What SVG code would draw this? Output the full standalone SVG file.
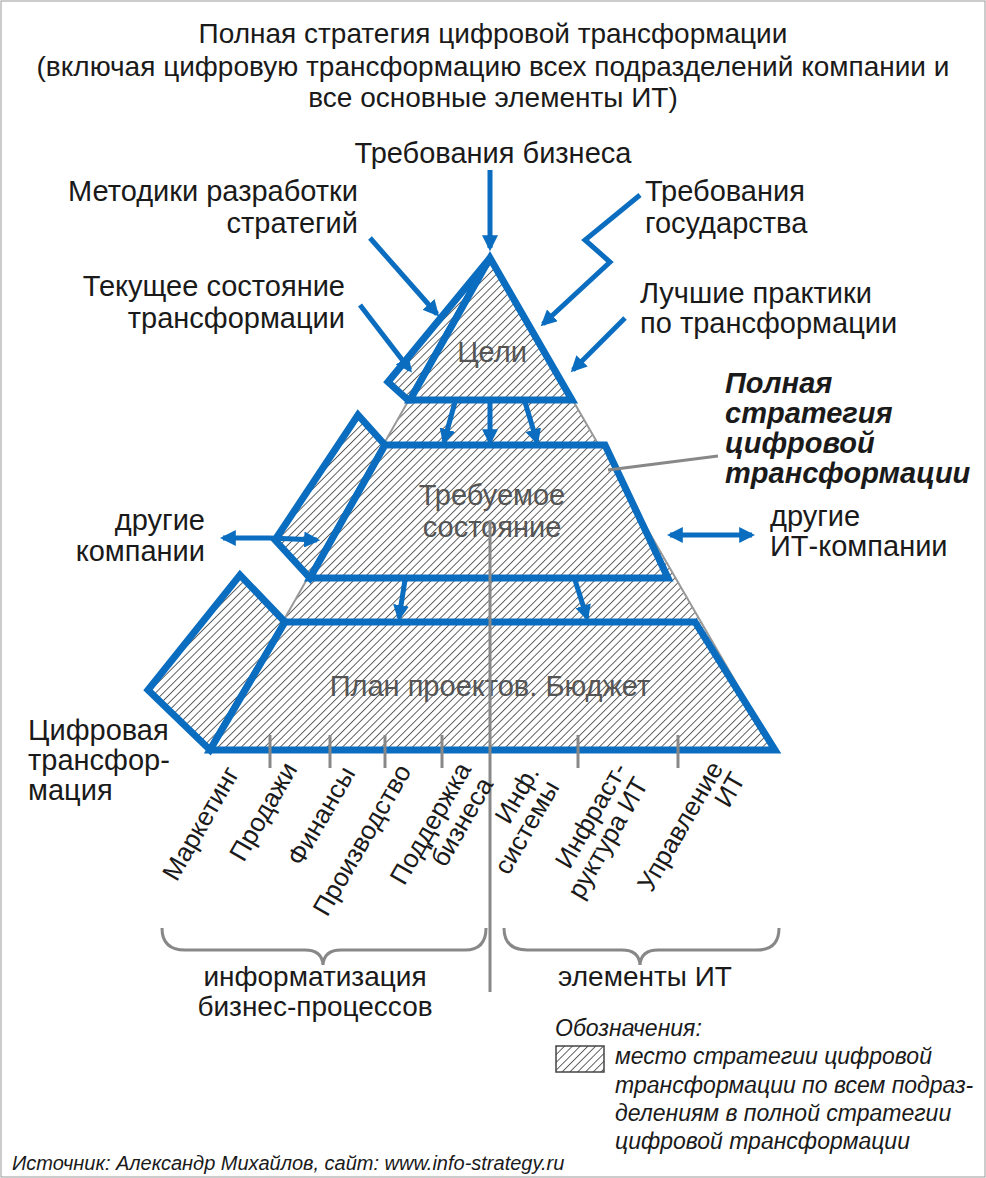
<svg xmlns="http://www.w3.org/2000/svg" width="986" height="1178" viewBox="0 0 986 1178">
<defs>
<pattern id="h" patternUnits="userSpaceOnUse" width="5.5" height="5.5" patternTransform="rotate(45)">
<rect width="5.5" height="5.5" fill="#fff"/><line x1="0" y1="0" x2="0" y2="5.5" stroke="#222" stroke-width="1.4"/>
</pattern>
<marker id="a" viewBox="0 0 10 10" refX="8" refY="5" markerWidth="3.2" markerHeight="3.2" orient="auto-start-reverse"><path d="M0,0L10,5L0,10z" fill="#0b6dbf"/></marker>
<style>
text{font-family:"Liberation Sans",Arial,sans-serif;fill:#1a1a1a}
.b{fill:url(#h);stroke:#0b6dbf;stroke-width:7;stroke-linejoin:miter}
.ar{fill:none;stroke:#0b6dbf;stroke-width:5;marker-end:url(#a)}
.g{stroke:#888;stroke-width:3;fill:none}
.in{fill:#555;font-size:29px;text-anchor:middle}
.lb{font-size:29px}
.it{font-style:italic}
</style>
</defs>
<rect x="1" y="1" width="984" height="1176" fill="#fff" stroke="#999"/>
<g id="title" font-size="28" text-anchor="middle">
<text x="493" y="43">Полная стратегия цифровой трансформации</text>
<text x="493" y="76">(включая цифровую трансформацию всех подразделений компании и</text>
<text x="493" y="107">все основные элементы ИТ)</text>
</g>
<g id="pyramid">
<polygon points="490,257 210,750 775,750" fill="url(#h)" stroke="#999" stroke-width="2"/>
</g>
<g id="goals">
<polygon class="b" points="490,258 388,382 408,400 410,400"/>
<polygon class="b" points="490,258 410,400 572,400"/>
<text class="in" x="492" y="362">Цели</text>
</g>
<g id="state">
<polygon class="b" points="385,445 358,415 275,540 310,578"/>
<polygon class="b" points="385,445 605,445 668,578 310,578"/>
<text class="in" x="492" y="505">Требуемое</text>
<text class="in" x="492" y="537">состояние</text>
</g>
<g id="plan">
<polygon class="b" points="285,622 240,575 148,690 210,750"/>
<polygon class="b" points="285,622 695,622 775,750 210,750"/>
<text class="in" x="490" y="696">План проектов. Бюджет</text>
</g>
<g id="connectors">
<line class="g" x1="490" y1="520" x2="490" y2="992"/>
<line class="g" x1="608" y1="470" x2="718" y2="456"/>
<g class="g" stroke-width="3">
<line x1="270" y1="735" x2="270" y2="768"/><line x1="330" y1="735" x2="330" y2="768"/>
<line x1="385" y1="735" x2="385" y2="768"/><line x1="442" y1="735" x2="442" y2="768"/>
<line x1="578" y1="735" x2="578" y2="768"/><line x1="678" y1="735" x2="678" y2="768"/>
</g>
<line class="ar" x1="490" y1="170" x2="490" y2="248"/>
<line class="ar" x1="370" y1="238" x2="437" y2="314"/>
<line class="ar" x1="360" y1="305" x2="410" y2="370"/>
<polyline class="ar" points="640,195 585,240 610,262 543,324"/>
<line class="ar" x1="625" y1="318" x2="573" y2="370"/>
<line class="ar" x1="455" y1="402" x2="444" y2="442"/>
<line class="ar" x1="490" y1="402" x2="490" y2="442"/>
<line class="ar" x1="525" y1="402" x2="537" y2="442"/>
<line class="ar" x1="405" y1="580" x2="399" y2="618"/>
<line class="ar" x1="575" y1="580" x2="587" y2="618"/>
<line class="ar" x1="270" y1="538" x2="223" y2="538"/>
<line class="ar" x1="270" y1="538" x2="317" y2="540"/>
<line class="ar" x1="710" y1="535" x2="670" y2="535"/>
<line class="ar" x1="710" y1="535" x2="752" y2="535"/>
<path class="g" d="M162,928 Q162,950 185,950 L305,950 Q322,950 323,965 Q324,950 341,950 L465,950 Q486,950 486,928"/>
<path class="g" d="M504,928 Q504,950 527,950 L622,950 Q639,950 640,965 Q641,950 658,950 L757,950 Q779,950 779,928"/>
</g>
<g id="labels" class="lb">
<text x="493" y="163" text-anchor="middle">Требования бизнеса</text>
<text x="358" y="201" text-anchor="end">Методики разработки</text>
<text x="358" y="233" text-anchor="end">стратегий</text>
<text x="645" y="201">Требования</text>
<text x="645" y="233">государства</text>
<text x="345" y="296" text-anchor="end">Текущее состояние</text>
<text x="345" y="328" text-anchor="end">трансформации</text>
<text x="640" y="303">Лучшие практики</text>
<text x="640" y="333">по трансформации</text>
<g font-weight="bold" font-style="italic" font-size="29">
<text x="725" y="393">Полная</text><text x="725" y="423">стратегия</text>
<text x="725" y="453">цифровой</text><text x="725" y="483">трансформации</text>
</g>
<text x="205" y="530" text-anchor="end" fill="#444">другие</text>
<text x="205" y="561" text-anchor="end" fill="#444">компании</text>
<text x="770" y="526" fill="#444">другие</text>
<text x="770" y="556" fill="#444">ИТ-компании</text>
<text x="28" y="740">Цифровая</text>
<text x="28" y="770">трансфор-</text>
<text x="28" y="800">мация</text>
</g>
<g id="units" font-size="26" text-anchor="end">
<text transform="translate(240,773) rotate(-60)">Маркетинг</text>
<text transform="translate(298,769) rotate(-60)">Продажи</text>
<text transform="translate(356,773) rotate(-60)">Финансы</text>
<text transform="translate(412,771) rotate(-60)">Производство</text>
<text transform="translate(472,769) rotate(-60)">Поддержка</text>
<text transform="translate(494,784) rotate(-60)">бизнеса</text>
<text transform="translate(540,772) rotate(-60)">Инф.</text>
<text transform="translate(560,787) rotate(-60)">системы</text>
<text transform="translate(628,769) rotate(-60)">Инфраст-</text>
<text transform="translate(649,784) rotate(-60)">руктура ИТ</text>
<text transform="translate(724,768) rotate(-60)">Управление</text>
<text transform="translate(746,779) rotate(-60)">ИТ</text>
</g>
<g id="groups" font-size="28" text-anchor="middle">
<text x="315" y="986">информатизация</text>
<text x="315" y="1016">бизнес-процессов</text>
<text x="645" y="986">элементы ИТ</text>
</g>
<g id="legend" class="it" font-size="23">
<text x="555" y="1036" class="it">Обозначения:</text>
<rect x="556" y="1046" width="48" height="26" fill="url(#h)" stroke="#444" stroke-width="1.5"/>
<text x="615" y="1064" class="it">место стратегии цифровой</text>
<text x="615" y="1093" class="it">трансформации по всем подраз-</text>
<text x="615" y="1121" class="it">делениям в полной стратегии</text>
<text x="615" y="1149" class="it">цифровой трансформации</text>
</g>
<text x="12" y="1170" font-size="20" class="it" fill="#333">Источник: Александр Михайлов, сайт: www.info-strategy.ru</text>
</svg>
